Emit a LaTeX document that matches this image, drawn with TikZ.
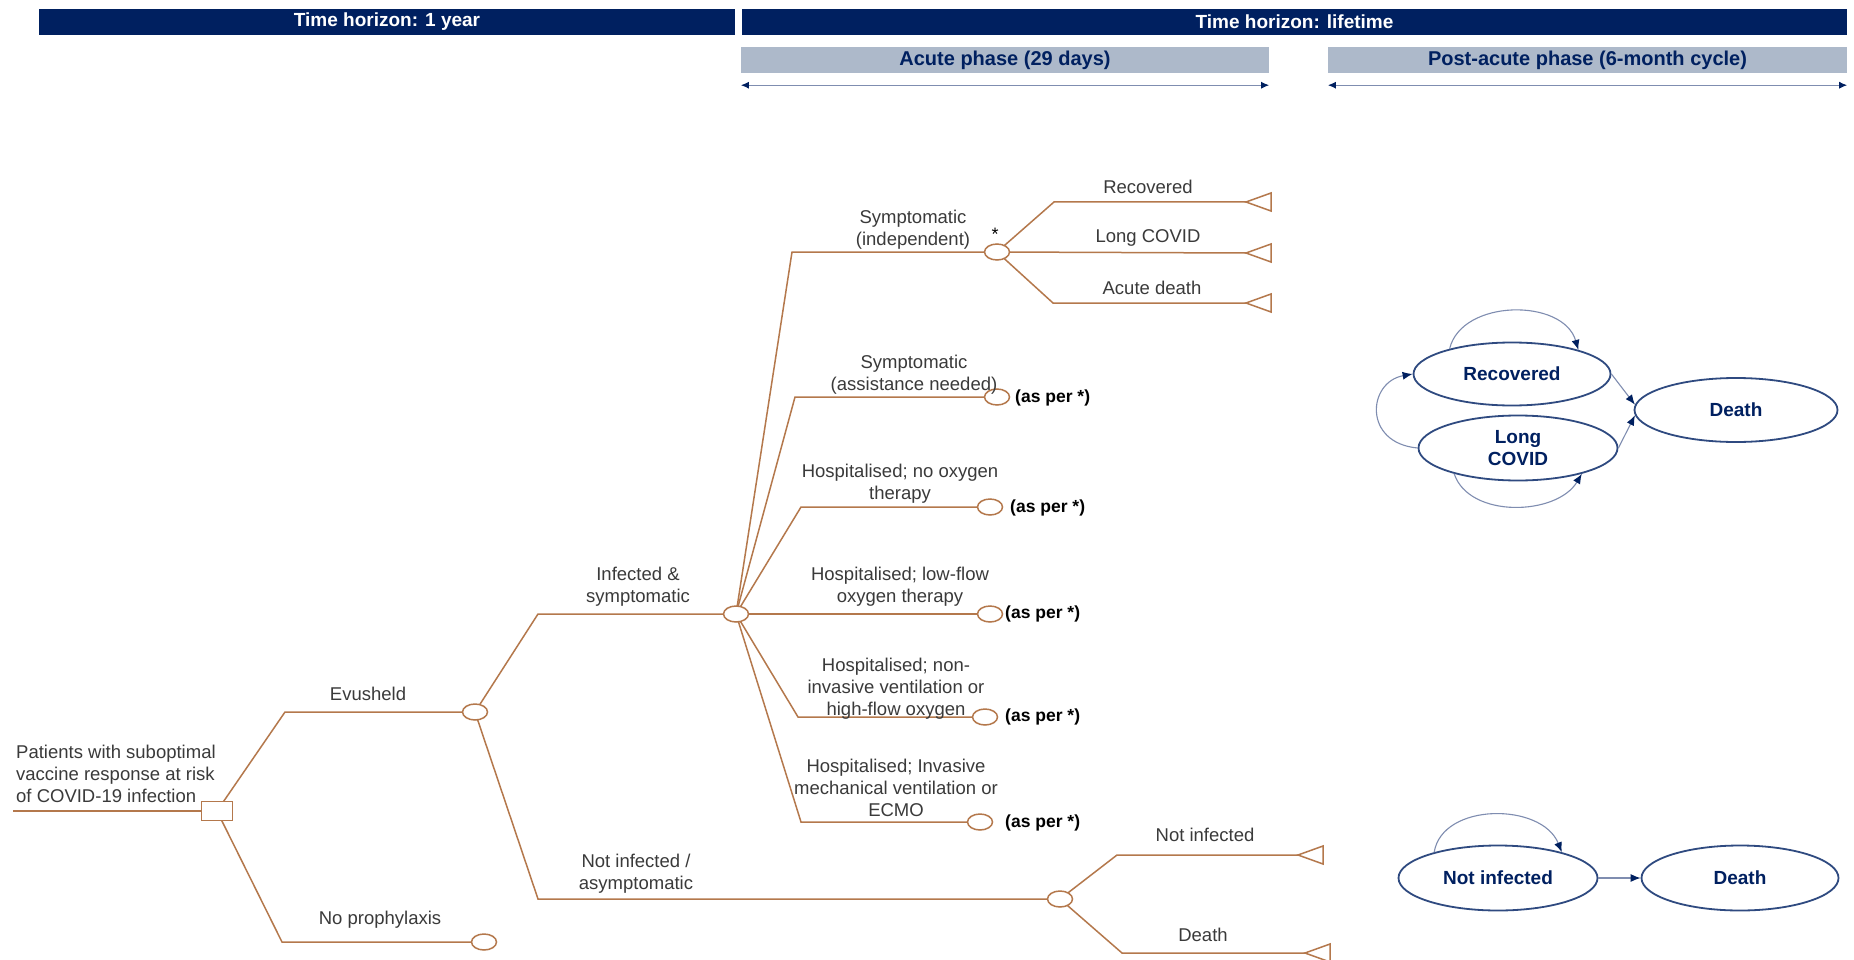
\documentclass[tikz,border=0pt]{standalone}
\usepackage{fontspec}
\setmainfont{Liberation Sans}
\usetikzlibrary{arrows.meta,shapes.geometric,backgrounds}
\definecolor{navy}{HTML}{002060}
\definecolor{barGray}{HTML}{ADB9CA}
\definecolor{treeBrown}{HTML}{B4784C}
\definecolor{stateBlue}{HTML}{2F4A80}
\definecolor{lineBlue}{HTML}{7F8DB0}
\definecolor{labelGray}{HTML}{3A3A3A}

\begin{document}
\begin{tikzpicture}[x=1pt,y=-1pt,
  hbar/.style={fill=navy,text=white,minimum height=26pt,inner sep=0pt,font=\fontsize{19}{22}\selectfont\bfseries},
  pbar/.style={fill=barGray,text=navy,minimum height=26pt,inner sep=0pt,font=\fontsize{20}{22}\selectfont\bfseries},
  span/.style={draw=lineBlue,line width=1.2pt,{Latex[length=8pt,width=7pt,color=navy]}-{Latex[length=8pt,width=7pt,color=navy]}},
  branch/.style={draw=treeBrown,line width=1.5pt},
  chance/.style={ellipse,draw=treeBrown,line width=1.5pt,fill=white,minimum width=25pt,minimum height=16pt,inner sep=0pt},
  decision/.style={rectangle,draw=treeBrown,line width=1.5pt,fill=white,minimum width=31pt,minimum height=19pt,inner sep=0pt},
  lbl/.style={text=labelGray,align=center,font=\fontsize{18.5}{22}\selectfont},
  asper/.style={anchor=west,inner sep=0pt,font=\fontsize{17.5}{20}\selectfont\bfseries},
  state/.style={ellipse,draw=stateBlue,line width=1.8pt,fill=white,text=navy,align=center,inner sep=0pt,font=\fontsize{19}{22}\selectfont\bfseries},
  trans/.style={draw=lineBlue,line width=1.1pt,-{Latex[length=10pt,width=8pt,color=navy]}}]
  \useasboundingbox (0,0) rectangle (1854,960);

  % time horizons and phases
  \node[hbar,minimum width=696pt] (hor1) at (387,22) {Time horizon: 1 year};
  \node[hbar,minimum width=1105pt] (horLife) at (1294.5,22) {Time horizon: lifetime};
  \node[pbar,minimum width=528pt] (acute) at (1005,60) {Acute phase (29 days)};
  \node[pbar,minimum width=519pt] (postacute) at (1587.5,60) {Post-acute phase (6-month cycle)};
  \draw[span] ([yshift=-12pt]acute.south west) -- ([yshift=-12pt]acute.south east);
  \draw[span] ([yshift=-12pt]postacute.south west) -- ([yshift=-12pt]postacute.south east);

  % decision tree
  \coordinate (start) at (13,811);
  \node[decision] (root) at (217,811) {};
  \node[chance] (evu) at (475,712) {};
  \node[chance] (nop) at (484,942) {};
  \node[chance] (inf) at (736,614) {};
  \node[chance] (ninf) at (1060,899) {};
  \node[chance] (s1) at (997,252) {};
  \node[chance] (s2) at (997,397) {};
  \node[chance] (s3) at (990,507) {};
  \node[chance] (s4) at (990,614) {};
  \node[chance] (s5) at (985,717) {};
  \node[chance] (s6) at (980,822) {};
  \coordinate (tRec) at (1246,202);
  \coordinate (tLong) at (1246,253);
  \coordinate (tDead) at (1246,303);
  \coordinate (tNot) at (1298,855);
  \coordinate (tDth) at (1305,953);

  \begin{scope}[on background layer]
    \fill[white] (0,0) rectangle (1854,960);
    \draw[branch] (start) -- (root);
    \draw[branch] (root.center) -- ([xshift=-190pt]evu.center) -- (evu.center);
    \draw[branch] (root.center) -- ([xshift=-202pt]nop.center) -- (nop.center);
    \draw[branch] (evu.center) -- ([xshift=-198pt]inf.center) -- (inf.center);
    \draw[branch] (evu.center) -- ([xshift=-522pt]ninf.center) -- (ninf.center);
    \draw[branch] (inf.center) -- ([xshift=-205pt]s1.center) -- (s1.center);
    \draw[branch] (inf.center) -- ([xshift=-202pt]s2.center) -- (s2.center);
    \draw[branch] (inf.center) -- ([xshift=-189pt]s3.center) -- (s3.center);
    \draw[branch] (inf.center) -- (s4.center);
    \draw[branch] (inf.center) -- ([xshift=-187pt]s5.center) -- (s5.center);
    \draw[branch] (inf.center) -- ([xshift=-179pt]s6.center) -- (s6.center);
    \draw[branch] (s1.center) -- ([xshift=-192pt]tRec) -- (tRec);
    \draw[branch] (s1.center) -- (tLong);
    \draw[branch] (s1.center) -- ([xshift=-193pt]tDead) -- (tDead);
    \draw[branch] (ninf.center) -- ([xshift=-181pt]tNot) -- (tNot);
    \draw[branch] (ninf.center) -- ([xshift=-183pt]tDth) -- (tDth);
  \end{scope}
  \foreach \t in {tRec,tLong,tDead,tNot,tDth}
    \draw[branch,fill=white] (\t) -- ++(25,-9) -- ++(0,18) -- cycle;

  \node[lbl,align=left,anchor=south west,inner sep=0pt] (rootLbl) at (16,803)
    {Patients with suboptimal\\vaccine response at risk\\of COVID-19 infection};
  \node[lbl] (evuLbl) at (368,694) {Evusheld};
  \node[lbl] (nopLbl) at (380,920) {No prophylaxis};
  \node[lbl] (infLbl) at (638,587) {Infected \&\\symptomatic};
  \node[lbl] (ninfLbl) at (636,874) {Not infected /\\asymptomatic};
  \node[lbl] (s1Lbl) at (913,230) {Symptomatic\\(independent)};
  \node[lbl] (s2Lbl) at (914,375) {Symptomatic\\(assistance needed)};
  \node[lbl] (s3Lbl) at (900,484) {Hospitalised; no oxygen\\therapy};
  \node[lbl] (s4Lbl) at (900,587) {Hospitalised; low-flow\\oxygen therapy};
  \node[lbl] (s5Lbl) at (896,689) {Hospitalised; non-\\invasive ventilation or\\high-flow oxygen};
  \node[lbl] (s6Lbl) at (896,788) {Hospitalised; Invasive\\mechanical ventilation or\\ECMO};
  \node[lbl] (recLbl) at (1148,187) {Recovered};
  \node[lbl] (longLbl) at (1148,238) {Long COVID};
  \node[lbl] (deadLbl) at (1152,288) {Acute death};
  \node[lbl] (notLbl) at (1205,835) {Not infected};
  \node[lbl] (dthLbl) at (1203,935) {Death};
  \node[font=\fontsize{18}{20}\selectfont] (star) at (995,234) {*};
  \node[asper] (as2) at (1015,398) {(as per *)};
  \node[asper] (as3) at (1010,508) {(as per *)};
  \node[asper] (as4) at (1005,614) {(as per *)};
  \node[asper] (as5) at (1005,717) {(as per *)};
  \node[asper] (as6) at (1005,823) {(as per *)};

  % Markov states
  \node[state,minimum width=197pt,minimum height=63pt] (rec) at (1512,374) {Recovered};
  \node[state,minimum width=199pt,minimum height=65pt] (lc) at (1518,448) {Long\\COVID};
  \node[state,minimum width=203pt,minimum height=64pt] (dthA) at (1736,410) {Death};
  \node[state,minimum width=199pt,minimum height=65pt] (ni) at (1498,878) {Not infected};
  \node[state,minimum width=197pt,minimum height=65pt] (dthB) at (1740,878) {Death};

  \draw[trans] (rec.158) .. controls +(12,-50) and +(-15,-52) .. (rec.20);
  \draw[trans] (lc.west) .. controls +(-55,-5) and +(-45,8) .. (rec.west);
  \draw[trans] (lc.202) .. controls +(15,45) and +(-25,42) .. (lc.338);
  \draw[trans] (rec.east) -- (dthA.177);
  \draw[trans] (lc.east) -- (dthA.183);
  \draw[trans] (ni.158) .. controls +(8,-50) and +(-20,-50) .. (ni.22);
  \draw[trans] (ni.east) -- (dthB.west);
\end{tikzpicture}
\end{document}
